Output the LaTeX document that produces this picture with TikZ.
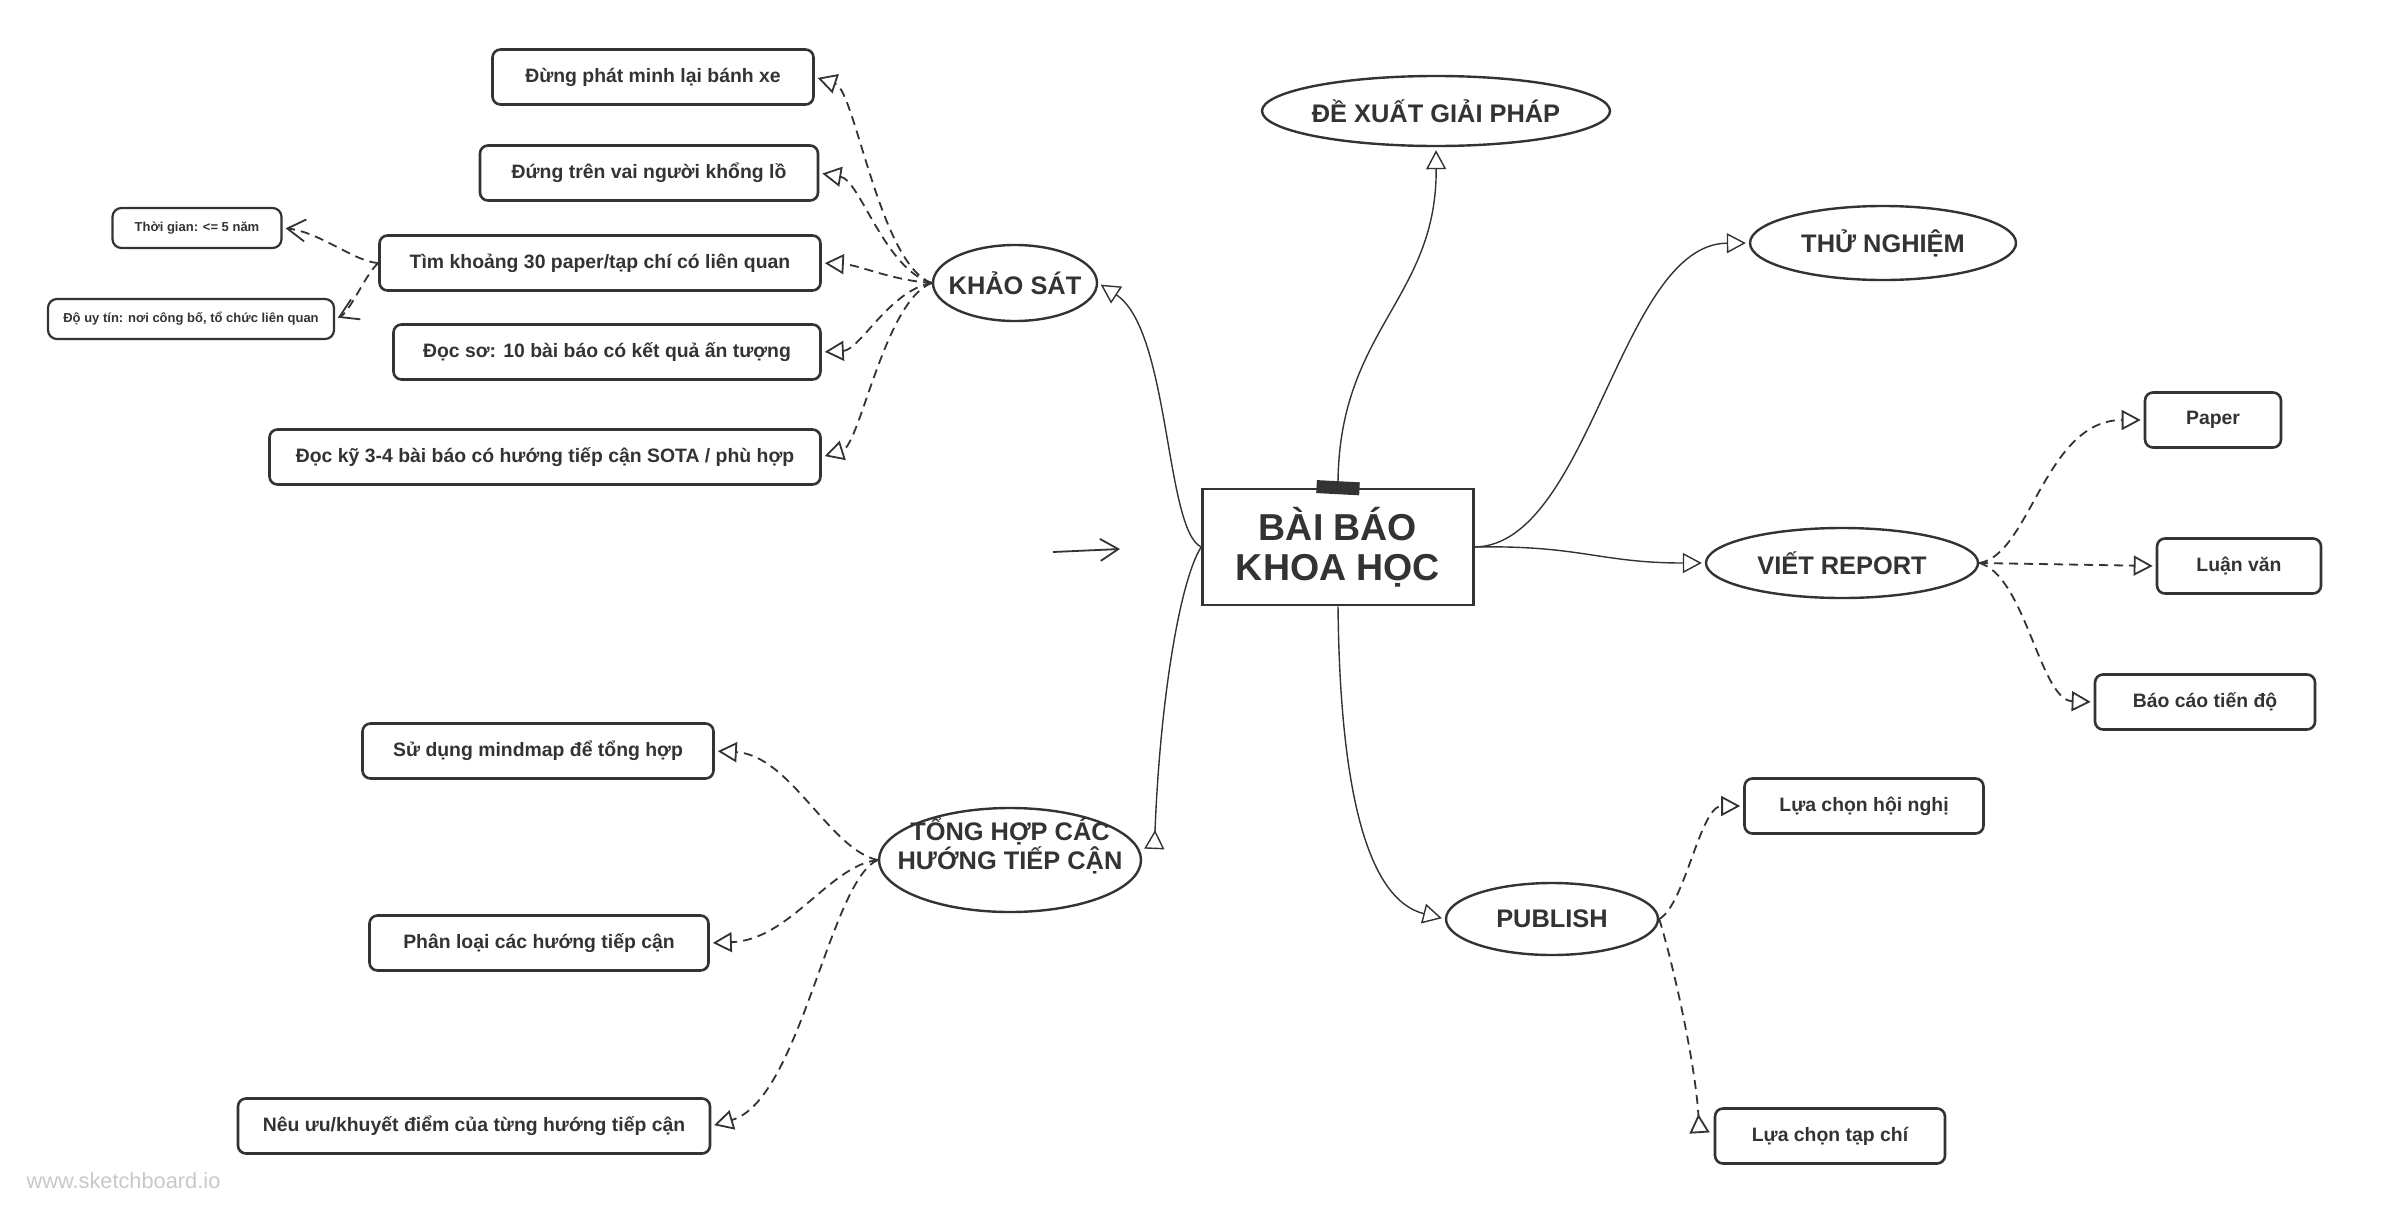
\documentclass[tikz,border=0pt]{standalone}
\usepackage{fontspec}
\setmainfont{Liberation Sans}
\usepackage{tikz}
\usetikzlibrary{arrows.meta,shapes.geometric}
\definecolor{inkmain}{HTML}{333333}
\definecolor{inkmark}{HTML}{C8C8C8}
\tikzset{every node/.append style={font=\bfseries,text=inkmain}}
\tikzset{
  topic/.style={draw=inkmain,line width=2.6pt,inner sep=0pt,align=center,
    font=\fontsize{37.5}{40}\selectfont\bfseries},
  branch/.style={ellipse,draw=inkmain,line width=2.4pt,inner sep=-45pt,align=center,
    font=\fontsize{25.4}{29}\selectfont\bfseries},
  leaf/.style={draw=inkmain,line width=2.6pt,rounded corners=8pt,inner sep=0pt,
    minimum height=55pt,font=\fontsize{19.4}{23}\selectfont\bfseries},
  note/.style={leaf,line width=2.2pt,rounded corners=9pt,minimum height=40pt,
    font=\fontsize{13}{15}\selectfont\bfseries},
  link/.style={draw=inkmain,line width=1.4pt,shorten >=3pt,
    -{Triangle[open,length=19pt,width=20pt]}},
  sublink/.style={link,line width=1.8pt,dash pattern=on 9pt off 6pt},
  backhead/.style={-{Triangle[open,reversed,length=19pt,width=20pt]}},
  notelink/.style={sublink,-{Straight Barb[length=18pt,width=22pt]}}
}
\begin{document}
\begin{tikzpicture}[x=1pt,y=-1pt]
\useasboundingbox (0,0) rectangle (2405,1213);
% centre
\node[topic,minimum width=271pt,minimum height=116pt] (baibao) at (1338,547) {BÀI BÁO\\KHOA HỌC};
\node[fill=inkmain,minimum width=43pt,minimum height=13pt,inner sep=0pt,rotate=-3] (tape) at (baibao.north) {};
% branches
\node[branch,minimum width=348pt,minimum height=70pt] (dexuat) at (1436,111) {ĐỀ XUẤT GIẢI PHÁP};
\node[branch,minimum width=266pt,minimum height=74pt] (thunghiem) at (1883,243) {THỬ NGHIỆM};
\node[branch,minimum width=272pt,minimum height=70pt] (vietreport) at (1842,563) {VIẾT REPORT};
\node[branch,minimum width=212pt,minimum height=72pt] (publish) at (1552,919) {PUBLISH};
\node[branch,minimum width=164pt,minimum height=76pt] (khaosat) at (1015,283) {KHẢO SÁT};
\node[branch,minimum width=262pt,minimum height=104pt] (tonghop) at (1010,860) {};
\node[branch,draw=none] (tonghoplbl) at (1010,846) {TỔNG HỢP CÁC\\HƯỚNG TIẾP CẬN};
% khao sat
\node[leaf,minimum width=321pt] (k1) at (653,77) {Đừng phát minh lại bánh xe};
\node[leaf,minimum width=338pt] (k2) at (649,173) {Đứng trên vai người khổng lồ};
\node[leaf,minimum width=441pt] (k3) at (600,263) {Tìm khoảng 30 paper/tạp chí có liên quan};
\node[leaf,minimum width=427pt] (k4) at (607,352) {Đọc sơ: 10 bài báo có kết quả ấn tượng};
\node[leaf,minimum width=551pt] (k5) at (545,457) {Đọc kỹ 3-4 bài báo có hướng tiếp cận SOTA / phù hợp};
\node[note,minimum width=169pt] (n1) at (197,228) {Thời gian: <= 5 năm};
\node[note,minimum width=286pt] (n2) at (191,319) {Độ uy tín: nơi công bố, tổ chức liên quan};
% tong hop
\node[leaf,minimum width=351pt] (t1) at (538,751) {Sử dụng mindmap để tổng hợp};
\node[leaf,minimum width=339pt] (t2) at (539,943) {Phân loại các hướng tiếp cận};
\node[leaf,minimum width=472pt] (t3) at (474,1126) {Nêu ưu/khuyết điểm của từng hướng tiếp cận};
% viet report, publish
\node[leaf,minimum width=136pt] (paper) at (2213,420) {Paper};
\node[leaf,minimum width=164pt] (luanvan) at (2239,566) {Luận văn};
\node[leaf,minimum width=220pt] (baocao) at (2205,702) {Báo cáo tiến độ};
\node[leaf,minimum width=239pt] (hoinghi) at (1864,806) {Lựa chọn hội nghị};
\node[leaf,minimum width=230pt] (tapchi) at (1830,1136) {Lựa chọn tạp chí};
\node[font=\fontsize{21.8}{24}\selectfont,text=inkmark,anchor=west] (mark) at (23,1181) {www.sketchboard.io};
% main links
\draw[link] (baibao.north) .. controls (1337,330) and (1437,300) .. (dexuat.south);
\draw[link] (baibao.east) .. controls (1590,545) and (1620,244) .. (thunghiem.west);
\draw[link] (baibao.east) .. controls (1580,545) and (1600,563) .. (vietreport.west);
\draw[link] (baibao.south) .. controls (1340,800) and (1370,900) .. (publish.west);
\draw[link] (baibao.west) .. controls (1165,530) and (1170,330) .. (khaosat.east);
\draw[link,backhead] (baibao.west) .. controls (1180,580) and (1160,700) .. ([xshift=12pt,yshift=8pt]tonghop.east);
% sub links
\draw[sublink] (khaosat.west) .. controls (880,265) and (855,90) .. (k1.east);
\draw[sublink] (khaosat.west) .. controls (885,270) and (860,180) .. (k2.east);
\draw[sublink] (khaosat.west) .. controls (890,280) and (860,265) .. (k3.east);
\draw[sublink] (khaosat.west) .. controls (890,290) and (860,350) .. (k4.east);
\draw[sublink] (khaosat.west) .. controls (885,300) and (860,445) .. (k5.east);
\draw[notelink] (k3.west) .. controls (355,262) and (320,232) .. (n1.east);
\draw[notelink] (k3.west) .. controls (365,275) and (350,312) .. (n2.east);
\draw[sublink] (tonghop.west) .. controls (830,850) and (790,755) .. (t1.east);
\draw[sublink] (tonghop.west) .. controls (830,865) and (790,940) .. (t2.east);
\draw[sublink] (tonghop.west) .. controls (830,880) and (800,1100) .. (t3.east);
\draw[sublink] (vietreport.east) .. controls (2030,555) and (2045,420) .. (paper.west);
\draw[sublink] (vietreport.east) -- (luanvan.west);
\draw[sublink] (vietreport.east) .. controls (2025,575) and (2040,700) .. (baocao.west);
\draw[sublink] (publish.east) .. controls (1685,905) and (1700,806) .. (hoinghi.west);
\draw[sublink,backhead] (publish.east) .. controls (1672,960) and (1695,1060) .. ([xshift=-14pt]tapchi.west);
% stray arrow
\coordinate (s1) at (1053,552);
\coordinate (s2) at (1120,549);
\draw[draw=inkmain,line width=1.8pt,-{Straight Barb[length=18pt,width=22pt]}] (s1) -- (s2);
\end{tikzpicture}
\end{document}
